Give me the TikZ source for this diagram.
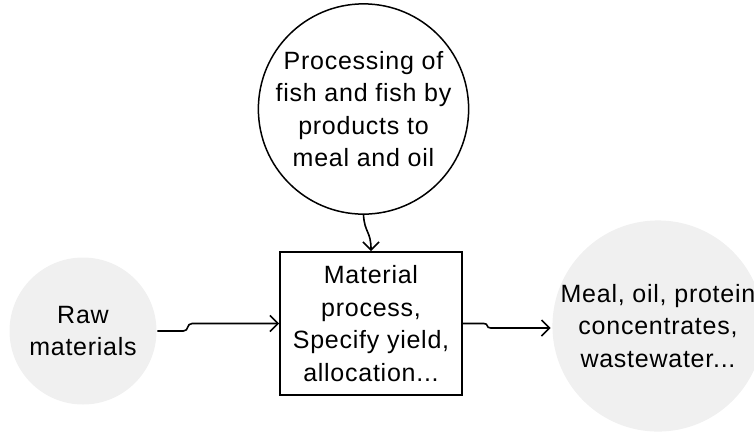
\documentclass[tikz,border=0pt]{standalone}
\usepackage{fontspec}
\setmainfont{Liberation Sans}[LetterSpace=3]
\usepackage{tikz}
\usetikzlibrary{calc,shapes,positioning,arrows.meta}
\definecolor{discgray}{HTML}{F0F0F0}

\begin{document}
\begin{tikzpicture}[x=1pt,y=-1pt,
softdisc/.style={circle,fill=discgray,inner sep=0pt,align=center},
ringdisc/.style={circle,draw=black,line width=1.5pt,fill=white,inner sep=0pt,align=center},
procbox/.style={rectangle,draw=black,line width=1.8pt,inner sep=0pt,align=center},
>={Straight Barb[length=8pt,width=16pt]},line width=1.6pt,
font=\fontsize{25}{32.5}\selectfont]
\useasboundingbox (0,0) rectangle (754,432);
\node (rawmat) at (83,331)[softdisc,minimum size=147pt]{Raw\\materials};
\node (fishproc) at (363.5,109)[ringdisc,minimum size=204pt]{Processing of\\fish and fish by\\products to\\meal and oil};
\node (matproc) at (371,323.5)[procbox,minimum width=182pt,minimum height=143pt]{Material\\process,\\Specify yield,\\allocation...};
\node (products) at (658,326)[softdisc,minimum size=208pt]{Meal, oil, protein\\concentrates,\\wastewater...};
\draw [->] (rawmat.east) -- ++(26,0) .. controls +(6,0) and +(-6,0) .. ($(matproc.west)+(-87,0)$) -- (matproc.west);
\draw [->] (matproc.east) -- ++(21,0) .. controls +(5,0) and +(-5,0) .. ($(products.west)+(-61,2)$) -- ($(products.west)+(-1,2)$);
\draw [->] (fishproc.south) .. controls +(1,18) and +(0,-20) .. (matproc.north);
\end{tikzpicture}
\end{document}
